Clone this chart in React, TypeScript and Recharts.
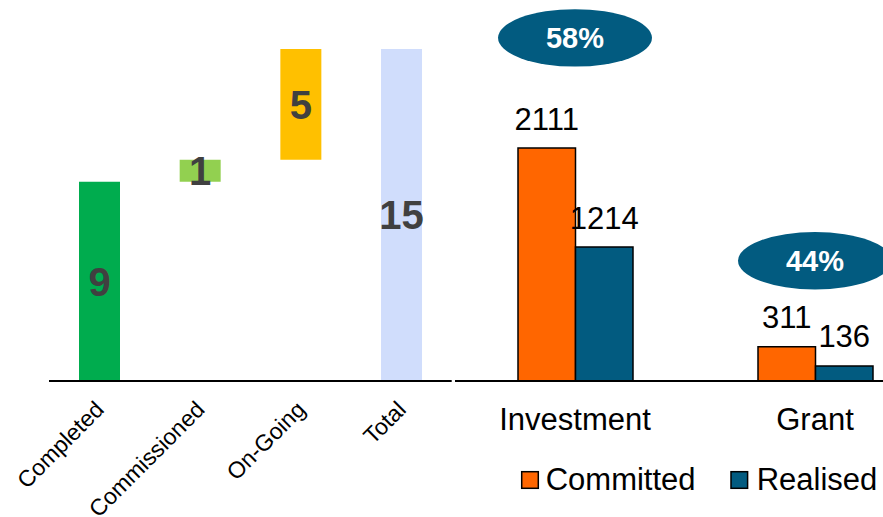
import React from 'react';
import { BarChart, Bar, XAxis, YAxis, Cell, LabelList, ReferenceDot, Legend } from 'recharts';

const FONT = '"Liberation Sans", Arial, sans-serif';

// Left chart: project status waterfall
const statusCategories = ['Completed', 'Commissioned', 'On-Going', 'Total'];
const statusCounts = [9, 1, 5, 15];
const statusColors = ['#00AC4E', '#92D050', '#FFC000', '#D0DDFC'];

// Right chart: funds
const fundCategories = ['Investment', 'Grant'];
const committedValues = [2111, 311];
const realisedValues = [1214, 136];
// bubble anchor heights (data units) for the realisation-rate annotations
const bubbleAnchors = [3110, 1090];

const COMMITTED_COLOR = '#FF6600';
const REALISED_COLOR = '#025B80';

const statusData = (() => {
  let running = 0;
  return statusCategories.map((name, i) => {
    const isTotal = i === statusCategories.length - 1;
    const base = isTotal ? 0 : running;
    if (!isTotal) running += statusCounts[i];
    return { name, base, value: statusCounts[i] };
  });
})();

const fundData = fundCategories.map((name, i) => ({
  name,
  committed: committedValues[i],
  realised: realisedValues[i],
  rate: Math.round((realisedValues[i] / committedValues[i]) * 100),
}));

const LeftTick = (props: any) => {
  const { x, y, payload } = props;
  const tx = x + 6;
  const ty = y + 22;
  return (
    <text
      x={tx}
      y={ty}
      transform={`rotate(-45 ${tx} ${ty})`}
      textAnchor="end"
      fontSize={23}
      fontFamily={FONT}
      fill="#000"
    >
      {payload.value}
    </text>
  );
};

const RightTick = (props: any) => {
  const { x, y, payload } = props;
  return (
    <text x={x} y={y + 41} textAnchor="middle" fontSize={31} fontFamily={FONT} fill="#000">
      {payload.value}
    </text>
  );
};

const ValueLabel = (props: any) => {
  const { x, y, width, value } = props;
  return (
    <text
      x={x + width / 2}
      y={y - 18.5}
      textAnchor="middle"
      fontSize={31}
      fontFamily={FONT}
      fill="#000"
    >
      {value}
    </text>
  );
};

const makeBubble = (label: string) => (props: any) => {
  const { cx, cy } = props;
  return (
    <g>
      <ellipse cx={cx} cy={cy} rx={77} ry={28.7} fill={REALISED_COLOR} />
      <text
        x={cx}
        y={cy + 10.5}
        textAnchor="middle"
        fontSize={29}
        fontWeight="bold"
        fontFamily={FONT}
        fill="#fff"
      >
        {label}
      </text>
    </g>
  );
};

const LegendContent = () => (
  <svg width={480} height={50} style={{ display: 'block' }}>
    <rect x={66.7} y={16.7} width={16.6} height={16.6} fill={COMMITTED_COLOR} stroke="#000" strokeWidth={1.5} />
    <text x={90.7} y={35} fontSize={31} fontFamily={FONT} fill="#000">Committed</text>
    <rect x={276} y={16.7} width={16.6} height={16.6} fill={REALISED_COLOR} stroke="#000" strokeWidth={1.5} />
    <text x={301.7} y={35} fontSize={31} fontFamily={FONT} fill="#000">Realised</text>
  </svg>
);

export default function App() {
  return (
    <div
      style={{
        position: 'absolute',
        left: 0,
        top: 0,
        width: 883,
        height: 517,
        overflow: 'hidden',
        background: '#fff',
      }}
    >
      <div style={{ position: 'absolute', left: 0, top: 0 }}>
        <BarChart
          width={460}
          height={517}
          data={statusData}
          margin={{ top: 49, right: 8.3, bottom: 0, left: 49 }}
          barSize={41}
        >
          <XAxis
            dataKey="name"
            height={136}
            tickLine={false}
            axisLine={{ stroke: '#000', strokeWidth: 2 }}
            tick={<LeftTick />}
            interval={0}
          />
          <YAxis hide domain={[0, 15]} />
          <Bar dataKey="base" stackId="w" fill="transparent" isAnimationActive={false} />
          <Bar dataKey="value" stackId="w" isAnimationActive={false}>
            {statusData.map((d, i) => (
              <Cell key={d.name} fill={statusColors[i]} />
            ))}
            <LabelList
              dataKey="value"
              position="center"
              fill="#404040"
              fontSize={40}
              fontWeight="bold"
              fontFamily={FONT}
            />
          </Bar>
        </BarChart>
      </div>
      <div style={{ position: 'absolute', left: 455, top: 0 }}>
        <BarChart
          width={480}
          height={517}
          data={fundData}
          margin={{ top: 50, right: 0, bottom: 0, left: 0 }}
          barGap={0}
        >
          <XAxis
            dataKey="name"
            height={136}
            tickLine={false}
            axisLine={{ stroke: '#000', strokeWidth: 2 }}
            tick={<RightTick />}
            interval={0}
          />
          <YAxis hide domain={[0, 3000]} />
          <Legend
            layout="horizontal"
            verticalAlign="middle"
            align="center"
            wrapperStyle={{ top: 455, left: 0, width: 480, height: 50 }}
            content={<LegendContent />}
          />
          <Bar
            dataKey="committed"
            name="Committed"
            fill={COMMITTED_COLOR}
            stroke="#000"
            strokeWidth={1.5}
            barSize={57.5}
            isAnimationActive={false}
          >
            <LabelList dataKey="committed" content={<ValueLabel />} />
          </Bar>
          <Bar
            dataKey="realised"
            name="Realised"
            fill={REALISED_COLOR}
            stroke="#000"
            strokeWidth={1.5}
            barSize={57.5}
            isAnimationActive={false}
          >
            <LabelList dataKey="realised" content={<ValueLabel />} />
          </Bar>
          {fundData.map((d, i) => (
            <ReferenceDot
              key={d.name}
              x={d.name}
              y={bubbleAnchors[i]}
              r={10}
              ifOverflow="visible"
              shape={makeBubble(`${d.rate}%`)}
            />
          ))}
        </BarChart>
      </div>
    </div>
  );
}
